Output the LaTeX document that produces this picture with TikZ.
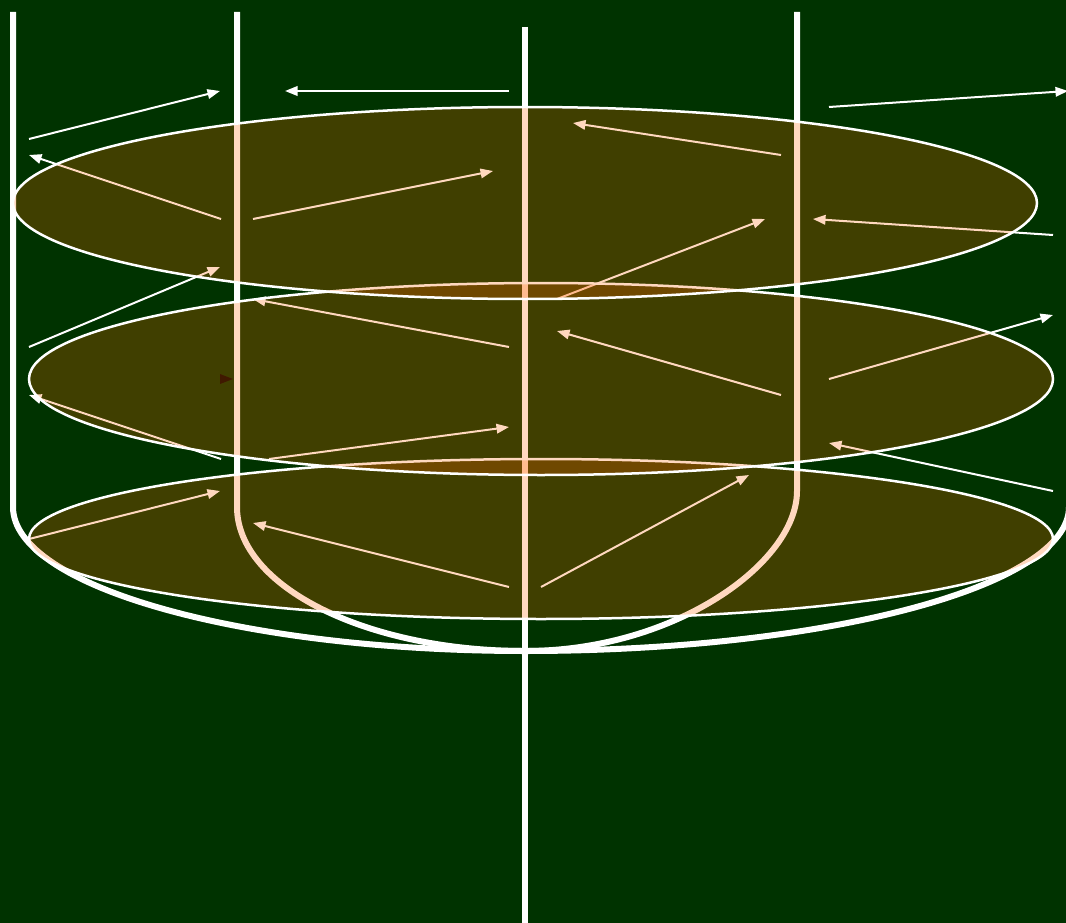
\documentclass[tikz,border=0pt]{standalone}
\usetikzlibrary{arrows.meta}
\definecolor{bgreen}{RGB}{0,51,0}
\definecolor{discfill}{RGB}{255,102,0}
\tikzset{
  wall/.style={draw=white,line width=6pt,line cap=butt},
  axisline/.style={draw=white,line width=6pt},
  disc/.style={draw=white,line width=2.5pt,fill=discfill,fill opacity=0.25,draw opacity=1},
  flow/.style={draw=white,line width=2pt,-{Triangle[length=12.5pt,width=9.5pt]}},
}
\newcommand{\flowarrow}[2]{\draw[flow] (#1) -- (#2);}
\begin{document}
\begin{tikzpicture}[x=1pt,y=-1pt]
\useasboundingbox (0,0) rectangle (1066,923);
\clip (0,0) rectangle (1066,923);
\fill[bgreen] (0,0) rectangle (1066,923);
% walls
\draw[axisline] (525,27) -- (525,923);
\draw[wall] (13,12) -- (13,507) .. controls (13,586.5) and (242.2,651) .. (525,651) .. controls (825.5,651) and (1069,586.5) .. (1069,507) -- (1069,12);
\draw[wall] (237,12) -- (237,507) .. controls (237,586.5) and (366,651) .. (525,651) .. controls (675.2,651) and (797,562.6) .. (797,491) -- (797,12);
% arrows
\flowarrow{29,139}{220,91}
\flowarrow{509,91}{285,91}
\flowarrow{829,107}{1068,91}
\flowarrow{221,219}{29,155}
\flowarrow{253,219}{493,171}
\flowarrow{781,155}{573,123}
\flowarrow{1053,235}{813,219}
\flowarrow{557,299}{765,219}
\flowarrow{29,347}{220,267}
\flowarrow{509,347}{253,299}
\flowarrow{781,395}{557,331}
\flowarrow{829,379}{1053,315}
\flowarrow{221,459}{29,395}
\flowarrow{269,459}{509,427}
\flowarrow{1053,491}{829,443}
\flowarrow{29,539}{220,491}
\flowarrow{509,587}{253,523}
\flowarrow{541,587}{749,475}
\fill[black] (220,374) -- (233,379) -- (220,384) -- cycle;
% discs
\draw[disc] (541,539) ellipse [x radius=512,y radius=80];
\draw[disc] (541,379) ellipse [x radius=512,y radius=96];
\draw[disc] (525,203) ellipse [x radius=512,y radius=96];
\end{tikzpicture}
\end{document}
